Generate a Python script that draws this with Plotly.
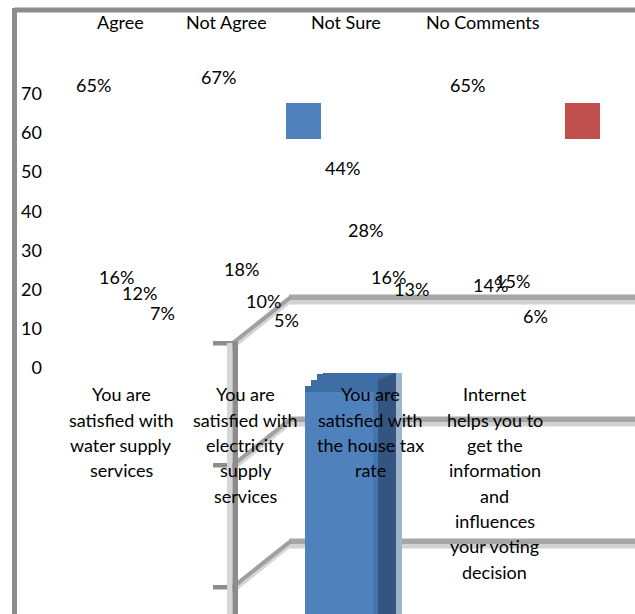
import plotly.graph_objects as go

# ---- data -------------------------------------------------------------
categories = [
    "You are<br>satisfied with<br>water supply<br>services",
    "You are<br>satisfied with<br>electricity<br>supply<br>services",
    "You are<br>satisfied with<br>the house tax<br>rate",
    "Internet<br>helps you to<br>get the<br>information<br>and<br>influences<br>your voting<br>decision",
]
series_names = ["Agree", "Not Agree", "Not Sure", "No Comments"]
agree = [65, 67, 44, 65]
not_agree = [16, 18, 28, 14]
not_sure = [12, 10, 16, 15]
no_comments = [7, 5, 13, 6]
series_values = [agree, not_agree, not_sure, no_comments]
y_ticks = [0, 10, 20, 30, 40, 50, 60, 70]
series_colors = ["#4F81BD", "#C0504D", "#9BBB59", "#8064A2"]

# ---- layout geometry (pixels) ------------------------------------------
W, H = 635, 614
ML = 46                       # left margin holding the value axis labels
PW = W - ML                   # plot width
FONT = "Lato"
FS = 18


def px(x):
    """pixel column -> paper x"""
    return (x - ML) / PW


def py(y):
    """pixel row -> paper y"""
    return 1 - y / H


fig = go.Figure()

# invisible anchor traces, one per series, so the axes are drawn
for name, vals in zip(series_names, series_values):
    fig.add_trace(go.Scatter(
        x=list(range(len(categories))), y=vals, name=name,
        mode="markers", marker=dict(opacity=0), showlegend=False,
        hoverinfo="skip"))

shapes = []

# chart border (top and left edge)
shapes.append(dict(type="line", xref="paper", yref="paper",
                   x0=px(14.5), x1=px(W + 5), y0=py(10), y1=py(10),
                   line=dict(color="#8C8C8C", width=5), layer="below"))
shapes.append(dict(type="line", xref="paper", yref="paper",
                   x0=px(14.5), x1=px(14.5), y0=py(8), y1=py(H + 5),
                   line=dict(color="#8C8C8C", width=5), layer="below"))

# floor / wall gridlines of the depth frame
wall_rows = [298, 420, 542]
for yr in wall_rows:
    # back horizontal line, two tones
    shapes.append(dict(type="rect", xref="paper", yref="paper",
                       x0=px(289), x1=px(W + 5), y0=py(yr - 3.5), y1=py(yr + 2),
                       line=dict(width=0), fillcolor="#A6A6A6", layer="below"))
    shapes.append(dict(type="rect", xref="paper", yref="paper",
                       x0=px(289), x1=px(W + 5), y0=py(yr + 2), y1=py(yr + 6.5),
                       line=dict(width=0), fillcolor="#D2D2D2", layer="below"))
    # receding diagonal
    shapes.append(dict(type="line", xref="paper", yref="paper",
                       x0=px(229), x1=px(289), y0=py(yr + 50), y1=py(yr + 2),
                       line=dict(color="#D4D4D4", width=7), layer="below"))
    shapes.append(dict(type="line", xref="paper", yref="paper",
                       x0=px(233), x1=px(291), y0=py(yr + 45), y1=py(yr - 1),
                       line=dict(color="#A0A0A0", width=4), layer="below"))
    # small tick on the front edge
    shapes.append(dict(type="rect", xref="paper", yref="paper",
                       x0=px(213), x1=px(234), y0=py(yr + 43), y1=py(yr + 47.5),
                       line=dict(width=0), fillcolor="#8C8C8C", layer="below"))

# front vertical edge
shapes.append(dict(type="rect", xref="paper", yref="paper",
                   x0=px(227), x1=px(232.5), y0=py(343), y1=py(H + 5),
                   line=dict(width=0), fillcolor="#D6D6D6", layer="below"))
shapes.append(dict(type="rect", xref="paper", yref="paper",
                   x0=px(232.5), x1=px(238), y0=py(341), y1=py(H + 5),
                   line=dict(width=0), fillcolor="#8C8C8C", layer="below"))


# the solid column with its top and side faces
def poly(points, color):
    d = "M " + " L ".join(f"{px(a)},{py(b)}" for a, b in points) + " Z"
    return dict(type="path", xref="paper", yref="paper", path=d,
                fillcolor=color, line=dict(width=0), layer="below")


shapes.append(poly([(305, 392), (305, 386), (311, 386), (311, 380),
                    (317, 380), (317, 374), (323, 374), (323, 373),
                    (402, 373), (402, 392)], "#3E6DA3"))
shapes.append(poly([(305, 392), (373, 392), (373, H + 5), (305, H + 5)],
                   "#4F81BD"))
shapes.append(poly([(373, 392), (378, 392), (378, H + 5), (373, H + 5)],
                   "#4575AD"))
shapes.append(poly([(378, 380), (396, 373), (396, H + 5), (378, H + 5)],
                   "#33557F"))
shapes.append(poly([(396, 373), (402, 373), (402, H + 5), (396, H + 5)],
                   "#9FB3CC"))

# colour keys for the first two series
key_boxes = [(286, 321), (565, 600)]
for (x0, x1), col in zip(key_boxes, series_colors[:2]):
    shapes.append(dict(type="rect", xref="paper", yref="paper",
                       x0=px(x0), x1=px(x1), y0=py(103), y1=py(139),
                       line=dict(width=0), fillcolor=col, layer="below"))

annotations = []
txt_font = dict(family=FONT, size=FS, color="#000000")

# series names across the top
legend_centres = [120, 226.5, 346, 483]
for name, cx in zip(series_names, legend_centres):
    annotations.append(dict(text=name, xref="paper", yref="paper",
                            x=px(cx), y=py(22), xanchor="center",
                            yanchor="middle", showarrow=False, font=txt_font))

# value labels, offset into depth per series
for j, vals in enumerate(series_values):
    for i, v in enumerate(vals):
        annotations.append(dict(text=f"{v}%", x=i, y=v, xref="x", yref="y",
                                xanchor="center", yanchor="middle",
                                xshift=7 + (j - 1.5) * 22.8, yshift=28,
                                showarrow=False, font=txt_font))

# category labels, one line each
line_pitch = 25.3
first_line = 394.5
for i, cat in enumerate(categories):
    for k, line in enumerate(cat.split("<br>")):
        annotations.append(dict(text=line, x=i, xref="x", yref="paper",
                                y=py(first_line + k * line_pitch),
                                xanchor="center", yanchor="middle",
                                showarrow=False, font=txt_font))

unit_x = 124.5
x0_px = 121
fig.update_layout(
    width=W, height=H,
    margin=dict(l=ML, r=0, t=0, b=0, pad=0),
    paper_bgcolor="white", plot_bgcolor="white",
    showlegend=False,
    shapes=shapes, annotations=annotations,
    font=dict(family=FONT, size=FS, color="#000000"),
    xaxis=dict(range=[(ML - x0_px) / unit_x, (W - x0_px) / unit_x],
               visible=False, fixedrange=True),
    yaxis=dict(range=[(368 - H) / 3.92, 368 / 3.92], tickvals=y_ticks,
               showgrid=False, zeroline=False, showline=False,
               ticks="", ticklabelstandoff=3,
               tickfont=dict(family=FONT, size=FS, color="#000000"),
               fixedrange=True),
)

fig.write_html("out.html", config={"displayModeBar": False})
